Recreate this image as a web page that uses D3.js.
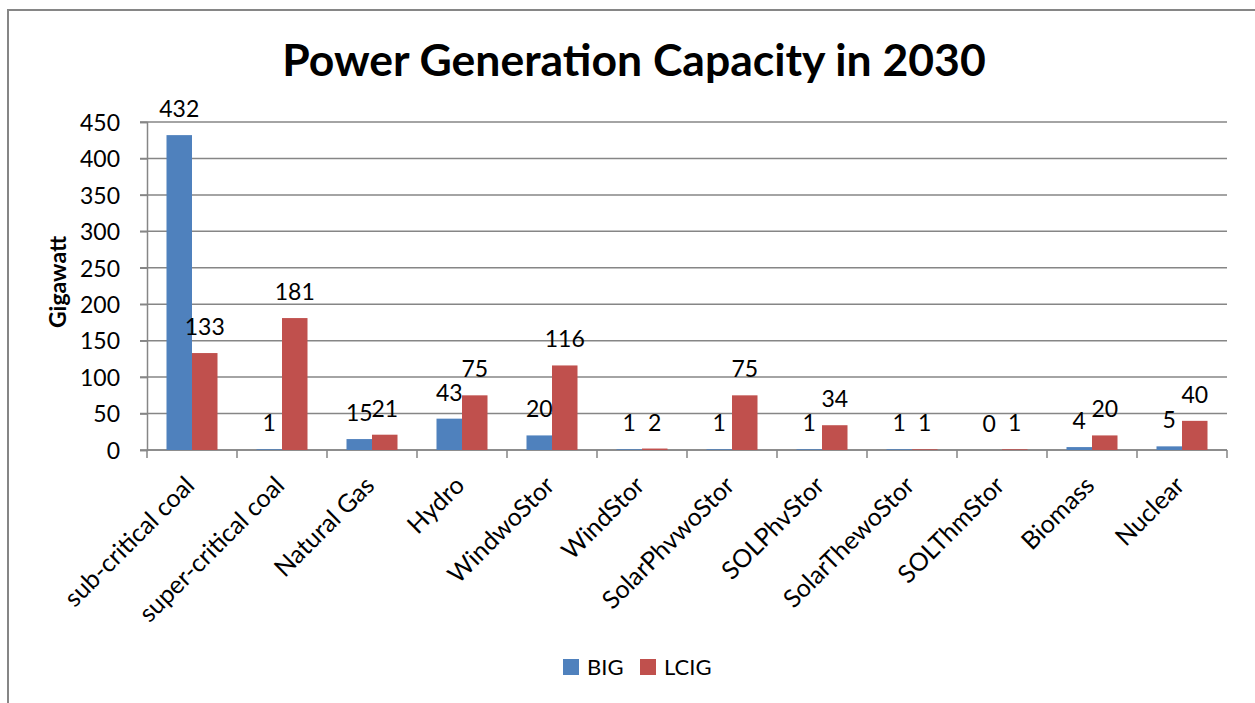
<!DOCTYPE html>
<html>
<head>
<meta charset="utf-8">
<script src="https://cdn.jsdelivr.net/npm/d3@7"></script>
<style>
  body { margin: 0; background: #fff; }
  svg { display: block; font-family: Lato, "Open Sans", sans-serif; }
</style>
</head>
<body>
<svg></svg>
<script>
const categories = ["sub-critical coal", "super-critical coal", "Natural Gas", "Hydro", "WindwoStor",
  "WindStor", "SolarPhvwoStor", "SOLPhvStor", "SolarThewoStor", "SOLThmStor", "Biomass", "Nuclear"];
const seriesNames = ["BIG", "LCIG"];
const big = [432, 1, 15, 43, 20, 1, 1, 1, 1, 0, 4, 5];
const lcig = [133, 181, 21, 75, 116, 2, 75, 34, 1, 1, 20, 40];
const yTicks = [0, 50, 100, 150, 200, 250, 300, 350, 400, 450];
const colors = ["#4F81BD", "#C0504D"];

const width = 1255;
const height = 703;
const margin = { left: 147, right: 28, top: 122, bottom: 253 };
const grey = "#868686";

const svg = d3.select("svg")
  .attr("width", width)
  .attr("height", height);

// outer chart frame (runs off the right and bottom edges)
svg.append("rect")
  .attr("x", 8)
  .attr("y", 10)
  .attr("width", width + 20)
  .attr("height", height + 20)
  .attr("fill", "none")
  .attr("stroke", grey)
  .attr("stroke-width", 2);

const x = d3.scaleBand()
  .domain(categories)
  .range([margin.left, width - margin.right]);

const y = d3.scaleLinear()
  .domain([0, 450])
  .range([height - margin.bottom, margin.top]);

const rows = categories.map((c, i) => ({ cat: c, values: [big[i], lcig[i]] }));

const barW = 25.5;

// gridlines
svg.append("g")
  .selectAll("line")
  .data(yTicks)
  .enter()
  .append("line")
  .attr("x1", margin.left - 7)
  .attr("x2", width - margin.right)
  .attr("y1", d => y(d))
  .attr("y2", d => y(d))
  .attr("stroke", grey)
  .attr("stroke-width", 1.5);

// y axis
const yAxis = svg.append("g")
  .attr("transform", `translate(${margin.left},0)`)
  .call(d3.axisLeft(y).tickValues(yTicks).tickSize(7).tickPadding(20));
yAxis.select(".domain").attr("stroke", grey).attr("stroke-width", 1.5);
yAxis.selectAll(".tick line").attr("stroke", grey).attr("stroke-width", 1.5);
yAxis.selectAll(".tick text")
  .attr("fill", "#000")
  .style("font-size", "23px")
  .style("font-family", "Lato, sans-serif")
  .attr("dy", "0.36em");

// x axis tick marks at band boundaries
const xEdges = categories.map(c => x(c)).concat([x.range()[1]]);
svg.append("g")
  .selectAll("line")
  .data(xEdges)
  .enter()
  .append("line")
  .attr("x1", d => d)
  .attr("x2", d => d)
  .attr("y1", y(0))
  .attr("y2", y(0) + 8)
  .attr("stroke", grey)
  .attr("stroke-width", 1.5);

svg.append("line")
  .attr("x1", margin.left)
  .attr("x2", width - margin.right)
  .attr("y1", y(0))
  .attr("y2", y(0))
  .attr("stroke", grey)
  .attr("stroke-width", 1.5);

// bars
const groups = svg.append("g")
  .selectAll("g")
  .data(rows)
  .enter()
  .append("g")
  .attr("transform", d => `translate(${x(d.cat) + x.bandwidth() / 2 - barW},0)`);

groups.selectAll("rect")
  .data(d => d.values)
  .enter()
  .append("rect")
  .attr("x", (d, i) => i * barW)
  .attr("y", d => y(d))
  .attr("width", barW)
  .attr("height", d => y(0) - y(d))
  .attr("fill", (d, i) => colors[i]);

groups.selectAll("text")
  .data(d => d.values)
  .enter()
  .append("text")
  .attr("x", (d, i) => i * barW + barW / 2)
  .attr("y", d => y(d) - 18)
  .attr("text-anchor", "middle")
  .style("font-size", "23px")
  .text(d => d);

// category labels
svg.append("g")
  .selectAll("text")
  .data(categories)
  .enter()
  .append("text")
  .attr("transform", d => `translate(${x(d) + x.bandwidth() / 2 + 4},487) rotate(-45)`)
  .attr("text-anchor", "end")
  .style("font-size", "25px")
  .text(d => d);

// y axis title
svg.append("text")
  .attr("transform", `translate(66,${(y(0) + y(450)) / 2 - 4}) rotate(-90)`)
  .attr("text-anchor", "middle")
  .style("font-size", "23px")
  .style("font-weight", "bold")
  .text("Gigawatt");

// chart title
svg.append("text")
  .attr("x", 634)
  .attr("y", 76)
  .attr("text-anchor", "middle")
  .style("font-size", "44.5px")
  .style("font-weight", "bold")
  .text("Power Generation Capacity in 2030");

// legend
const legend = svg.append("g")
  .selectAll("g")
  .data(seriesNames)
  .enter()
  .append("g")
  .attr("transform", (d, i) => `translate(${563 + i * 77},659)`);

legend.append("rect")
  .attr("width", 16)
  .attr("height", 16)
  .attr("fill", (d, i) => colors[i]);

legend.append("text")
  .attr("x", 24)
  .attr("y", 16)
  .style("font-size", "22px")
  .text(d => d);
</script>
</body>
</html>
